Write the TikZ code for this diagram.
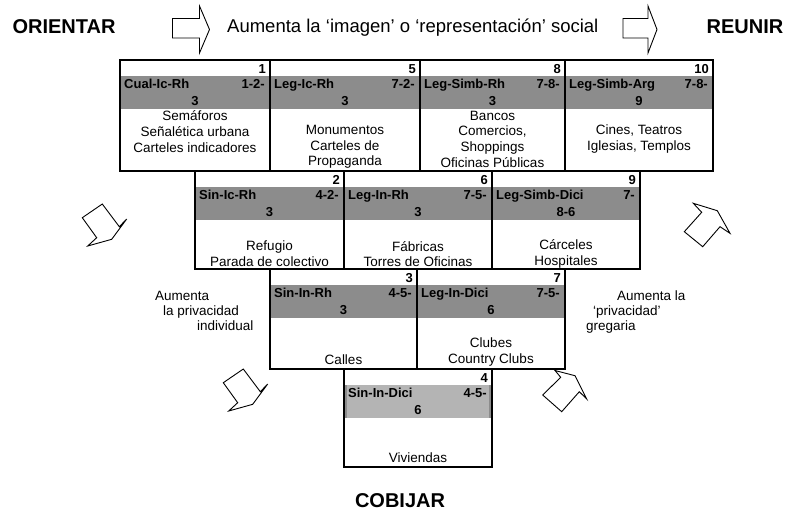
\documentclass[tikz,border=0pt]{standalone}
\usepackage{fontspec}
\setmainfont{Liberation Sans}
\definecolor{bandgray}{HTML}{8C8C8C}
\definecolor{bandlight}{HTML}{B4B4B4}
\tikzset{
  cellbox/.style={draw=black, line width=1.8pt},
  numtxt/.style={font=\fontsize{13}{15}\selectfont\bfseries, anchor=base east, inner sep=0pt},
  labtxt/.style={font=\fontsize{13}{15}\selectfont\bfseries, anchor=base west, inner sep=0pt},
  codetxt/.style={font=\fontsize{13}{15}\selectfont\bfseries, anchor=base east, inner sep=0pt},
  codetwo/.style={font=\fontsize{13}{15}\selectfont\bfseries, anchor=base, inner sep=0pt},
  bodytxt/.style={font=\fontsize{13.5}{15.7}\selectfont, align=center, inner sep=0pt},
  sidetxt/.style={font=\fontsize{13.5}{15.5}\selectfont, anchor=base west, inner sep=0pt},
  headtxt/.style={font=\fontsize{18.5}{22}\selectfont, anchor=base west, inner sep=0pt},
  bigtxt/.style={font=\fontsize{20}{24}\selectfont\bfseries, anchor=base, inner sep=0pt},
  blockarrow/.style={draw=black, line width=0.9pt, line join=miter, fill=white}
}
\def\bandinner{bandgray}
% #1 x1, #2 y1, #3 x2, #4 y2, #5 number, #6 label, #7 code line 1, #8 code line 2, #9 name
\newcommand\mycell[9]{%
  \fill[bandgray] (#1,#2+16) rectangle (#3,#2+49);
  \fill[\bandinner] (#1+3,#2+16) rectangle (#3-3,#2+49);
  \draw[cellbox] (#1,#2) rectangle (#3,#4);
  \node[numtxt] (#9n) at (#3-4,#2+13) {#5};
  \node[labtxt] (#9l) at (#1+4,#2+28) {#6};
  \node[codetxt] (#9c) at (#3-5,#2+28) {#7};
  \node[codetwo] (#9d) at ({(#1+#3)/2},#2+45) {#8};
}
\begin{document}
\begin{tikzpicture}[x=1pt,y=-1pt]
\useasboundingbox[fill=white] (0,0) rectangle (786,512);

% headings
\node[bigtxt] (orientar) at (64,33) {ORIENTAR};
\node[bigtxt] (reunir) at (745,33) {REUNIR};
\node[bigtxt] (cobijar) at (400,507) {COBIJAR};
\node[headtxt] (imagen) at (227,32.5) {Aumenta la ‘imagen’ o ‘representación’ social};

% horizontal block arrows
\draw[blockarrow] (172.5,18.5) -- (199.5,18.5) -- (199.5,6) -- (209.5,29.5) -- (199.5,53) -- (199.5,38) -- (172.5,38) -- cycle;
\draw[blockarrow] (623,18.5) -- (648,18.5) -- (648,6) -- (657,29.5) -- (648,53) -- (648,38) -- (623,38) -- cycle;

% diagonal block arrows (down-right, left side)
\draw[blockarrow] (82.3,217.7) -- (102.3,204) -- (119.3,226.7) -- (126.7,219) -- (111.7,239.3) -- (87.7,246) -- (96.7,237.7) -- cycle;
\draw[blockarrow] (223.3,382.7) -- (243.3,369) -- (260.3,391.7) -- (267.7,384) -- (252.7,404.3) -- (228.7,411) -- (237.7,402.7) -- cycle;
% diagonal block arrows (up-right, right side)
\draw[blockarrow] (693.3,203.3) -- (717.3,210.7) -- (730,233.3) -- (720,226.7) -- (702.7,246.7) -- (684.3,231.7) -- (701.7,212.3) -- cycle;
\draw[blockarrow] (555,370.5) -- (575,375.7) -- (586.7,399) -- (579.3,391.7) -- (561.7,411.7) -- (542.7,395) -- (560.7,377.3) -- cycle;

% row 1
\mycell{120}{60}{270}{171}{1}{Cual-Ic-Rh}{1-2-}{3}{c1}
\mycell{270}{60}{420}{171}{5}{Leg-Ic-Rh}{7-2-}{3}{c5}
\mycell{420}{60}{565}{171}{8}{Leg-Simb-Rh}{7-8-}{3}{c8}
\mycell{565}{60}{713}{171}{10}{Leg-Simb-Arg}{7-8-}{9}{c10}
% row 2
\mycell{195}{171}{344}{269}{2}{Sin-Ic-Rh}{4-2-}{3}{c2}
\mycell{344}{171}{492}{269}{6}{Leg-In-Rh}{7-5-}{3}{c6}
\mycell{492}{171}{640}{269}{9}{Leg-Simb-Dici}{7-}{8-6}{c9}
% row 3
\mycell{270}{269}{417}{369}{3}{Sin-In-Rh}{4-5-}{3}{c3}
\mycell{417}{269}{565}{369}{7}{Leg-In-Dici}{7-5-}{6}{c7}
% row 4
\def\bandinner{bandlight}
\mycell{344}{369}{492}{467}{4}{Sin-In-Dici}{4-5-}{6}{c4}

% body texts
\node[bodytxt] (b1) at (195,131.5) {Semáforos\\Señalética urbana\\Carteles indicadores};
\node[bodytxt] (b5) at (345,147) {Monumentos\\Carteles de\\Propaganda};
\node[bodytxt] (b8) at (492.5,139) {Bancos\\Comercios,\\Shoppings\\Oficinas Públicas};
\node[bodytxt] (b10) at (639,139) {Cines, Teatros\\Iglesias, Templos};
\node[bodytxt] (b2) at (269.5,254) {Refugio\\Parada de colectivo};
\node[bodytxt] (b6) at (418,254) {Fábricas\\Torres de Oficinas};
\node[bodytxt] (b9) at (566,254) {Cárceles\\Hospitales};
\node[bodytxt] (b3) at (343.5,360) {Calles};
\node[bodytxt] (b7) at (491,352) {Clubes\\Country Clubs};
\node[bodytxt] (b4) at (418,458) {Viviendas};

% side texts
\node[sidetxt] (l1) at (155,300) {Aumenta};
\node[sidetxt] (l2) at (163,315) {la privacidad};
\node[sidetxt] (l3) at (197,330) {individual};
\node[sidetxt] (r1) at (617,300) {Aumenta la};
\node[sidetxt] (r2) at (593,315) {‘privacidad’};
\node[sidetxt] (r3) at (586,330) {gregaria};
\end{tikzpicture}
\end{document}
